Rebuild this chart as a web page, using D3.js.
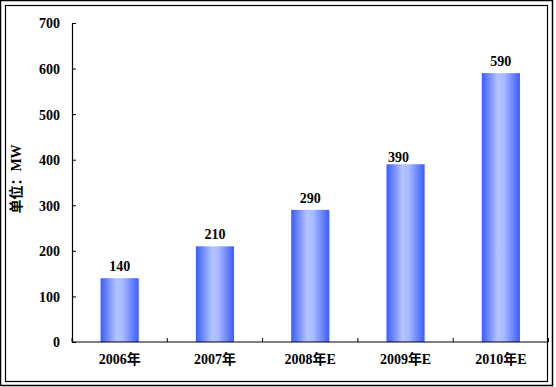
<!DOCTYPE html>
<html>
<head>
<meta charset="utf-8">
<script src="https://cdn.jsdelivr.net/npm/d3@7"></script>
<style>
  body { margin: 0; background: #fff; }
  text { font-family: "Liberation Serif", "Noto Sans CJK SC", serif; font-weight: bold; font-size: 14px; fill: #000; }
</style>
</head>
<body>
<div id="chart"></div>
<script>
let years = ['2006年', '2007年', '2008年E', '2009年E', '2010年E'];
let values = [140, 210, 290, 390, 590];
let yTicks = [0, 100, 200, 300, 400, 500, 600, 700];

let width = 556;
let height = 387;

let svg = d3.select('#chart').append('svg')
            .attr('width', width)
            .attr('height', height);

// double frame
svg.append('rect')
    .attr('x', 0.5).attr('y', 0.5)
    .attr('width', 552).attr('height', 385)
    .attr('fill', 'none').attr('stroke', '#000').attr('stroke-width', 1.5);
svg.append('rect')
    .attr('x', 5.5).attr('y', 5.5)
    .attr('width', 542).attr('height', 376)
    .attr('fill', 'none').attr('stroke', '#000').attr('stroke-width', 1.2);

let defs = svg.append('defs');
let grad = defs.append('linearGradient')
    .attr('id', 'barfill')
    .attr('x1', '0%').attr('x2', '100%').attr('y1', '0%').attr('y2', '0%');
grad.append('stop').attr('offset', '0%').attr('stop-color', '#3a5cff');
grad.append('stop').attr('offset', '42%').attr('stop-color', '#b4c4ff');
grad.append('stop').attr('offset', '58%').attr('stop-color', '#a9bbff');
grad.append('stop').attr('offset', '100%').attr('stop-color', '#3a5cff');

let x = d3.scaleBand()
          .domain(years)
          .range([72, 548.5])
          .paddingInner(0.6)
          .paddingOuter(0.3);

let y = d3.scaleLinear()
          .domain([0, 700])
          .range([342, 23]);

// bars
svg.selectAll('rect.bar')
    .data(values)
    .join('rect')
    .attr('class', 'bar')
    .attr('x', (d, i) => x(years[i]))
    .attr('width', x.bandwidth())
    .attr('y', d => y(d))
    .attr('height', d => y(0) - y(d))
    .attr('fill', 'url(#barfill)');

// value labels
svg.selectAll('text.val')
    .data(values)
    .join('text')
    .attr('class', 'val')
    .attr('x', (d, i) => x(years[i]) + x.bandwidth() / 2 - (i == 3 ? 7 : 0))
    .attr('y', (d, i) => y(d) - (i == 3 ? 2 : 7))
    .attr('text-anchor', 'middle')
    .text(d => d);

// y axis
let yAxis = d3.axisLeft(y)
              .tickValues(yTicks)
              .tickSizeInner(-4)
              .tickSizeOuter(0)
              .tickPadding(12);
let gy = svg.append('g')
    .attr('transform', 'translate(72,0)')
    .call(yAxis);
gy.select('.domain').attr('stroke', '#000').attr('stroke-width', 1.2);
gy.selectAll('.tick line').attr('stroke', '#000');
gy.selectAll('.tick text').attr('dy', '0.35em').style('font-size', '14px');

// x axis
let gx = svg.append('g')
    .attr('transform', 'translate(0,342)');
gx.append('line')
    .attr('x1', 72).attr('x2', 548.5)
    .attr('stroke', '#000').attr('stroke-width', 1.2);
let step = x.step();
let bounds = d3.range(years.length + 1).map(i => 72 + i * step);
gx.selectAll('line.tk')
    .data(bounds)
    .join('line')
    .attr('class', 'tk')
    .attr('x1', d => d).attr('x2', d => d)
    .attr('y1', 0).attr('y2', -4)
    .attr('stroke', '#000');
gx.selectAll('text')
    .data(years)
    .join('text')
    .attr('x', d => x(d) + x.bandwidth() / 2)
    .attr('y', 22)
    .attr('text-anchor', 'middle')
    .text(d => d);

// y title
svg.append('text')
    .attr('transform', 'translate(21,179) rotate(-90)')
    .attr('text-anchor', 'middle')
    .text('单位：MW');
</script>
</body>
</html>
